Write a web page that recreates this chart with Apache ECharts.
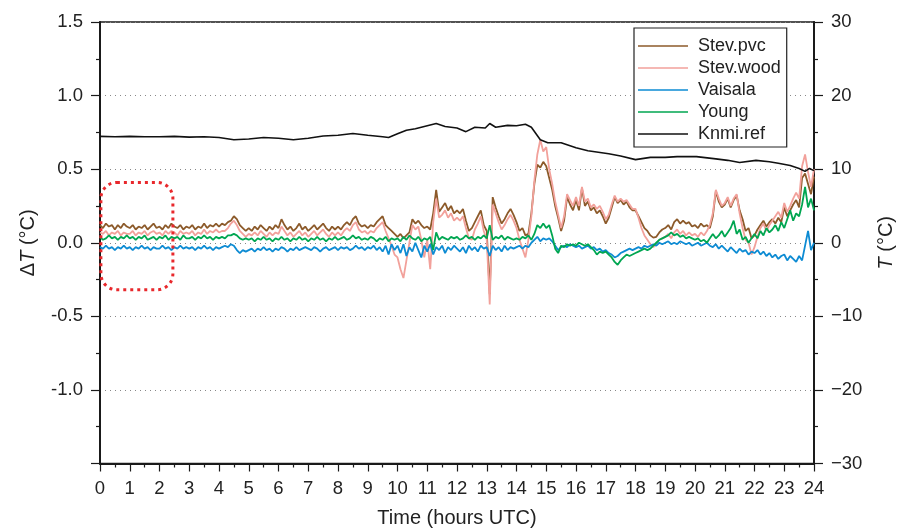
<!DOCTYPE html>
<html><head><meta charset="utf-8">
<script src="https://cdn.jsdelivr.net/npm/echarts@6/dist/echarts.min.js"></script>
<style>html,body{margin:0;padding:0;background:#fff}#c{width:900px;height:531px}</style>
</head><body><div id="c"></div>
<script>
const seriesNames = ['Stev.pvc', 'Stev.wood', 'Vaisala', 'Young', 'Knmi.ref'];
const sampleStepHours = 0.1; // ΔT series sampled every 6 minutes, 0..24 h
const xTickLabels = ['0','1','2','3','4','5','6','7','8','9','10','11','12','13','14','15','16','17','18','19','20','21','22','23','24'];

const stevPvc = [
 0.12,0.10,0.13,0.11,0.12,0.09,0.12,0.10,0.13,0.11,
 0.10,0.12,0.09,0.11,0.10,0.12,0.09,0.11,0.13,0.10,
 0.11,0.09,0.12,0.10,0.13,0.11,0.10,0.12,0.09,0.11,
 0.10,0.12,0.09,0.11,0.10,0.13,0.10,0.12,0.11,0.13,
 0.11,0.13,0.12,0.14,0.15,0.18,0.16,0.12,0.10,0.08,
 0.10,0.08,0.11,0.09,0.12,0.10,0.08,0.11,0.09,0.12,
 0.10,0.16,0.12,0.09,0.11,0.08,0.10,0.13,0.09,0.11,
 0.08,0.10,0.12,0.09,0.11,0.13,0.10,0.08,0.11,0.09,
 0.11,0.09,0.12,0.14,0.12,0.16,0.18,0.13,0.11,0.12,
 0.10,0.12,0.11,0.14,0.16,0.18,0.12,0.10,0.08,0.06,
 0.04,0.06,0.03,0.05,0.07,0.16,0.13,0.15,0.12,0.10,
 0.11,0.09,0.20,0.36,0.21,0.24,0.27,0.22,0.25,0.20,
 0.22,0.20,0.23,0.15,0.08,0.10,0.14,0.18,0.22,0.12,
 0.08,-0.35,0.31,0.24,0.18,0.13,0.16,0.20,0.23,0.19,
 0.14,0.08,0.10,0.05,0.06,0.20,0.40,0.53,0.51,0.55,
 0.52,0.44,0.36,0.25,0.17,0.08,0.15,0.31,0.26,0.22,
 0.29,0.22,0.37,0.25,0.28,0.22,0.24,0.20,0.22,0.18,
 0.13,0.17,0.24,0.31,0.27,0.29,0.26,0.28,0.24,0.22,
 0.22,0.18,0.14,0.10,0.08,0.05,0.035,0.04,0.07,0.09,
 0.10,0.12,0.09,0.14,0.16,0.13,0.15,0.13,0.14,0.11,
 0.12,0.10,0.13,0.11,0.12,0.10,0.18,0.35,0.28,0.24,
 0.26,0.30,0.24,0.29,0.32,0.22,0.16,0.08,0.10,0.03,
 0.05,0.09,0.12,0.15,0.11,0.14,0.16,0.13,0.17,0.14,
 0.24,0.18,0.22,0.26,0.29,0.24,0.44,0.47,0.40,0.33,
 0.45];

const stevWood = [
 0.07,0.06,0.08,0.05,0.07,0.06,0.08,0.05,0.07,0.06,
 0.06,0.08,0.05,0.07,0.06,0.08,0.05,0.07,0.08,0.06,
 0.07,0.05,0.08,0.06,0.08,0.07,0.05,0.08,0.06,0.07,
 0.06,0.08,0.05,0.07,0.06,0.09,0.06,0.08,0.07,0.09,
 0.07,0.08,0.08,0.10,0.13,0.15,0.12,0.08,0.06,0.04,
 0.06,0.05,0.07,0.05,0.08,0.06,0.04,0.07,0.05,0.07,
 0.06,0.11,0.08,0.05,0.07,0.04,0.06,0.08,0.05,0.07,
 0.04,0.06,0.08,0.05,0.07,0.09,0.06,0.04,0.07,0.05,
 0.07,0.05,0.08,0.10,0.08,0.12,0.14,0.09,0.07,0.08,
 0.06,0.08,0.07,0.10,0.12,0.14,0.08,0.03,-0.02,-0.08,
 -0.10,-0.18,-0.24,-0.12,0.00,0.12,0.09,0.11,0.02,-0.10,
 0.02,-0.18,0.14,0.30,0.17,0.19,0.22,0.17,0.20,0.15,
 0.17,0.15,0.18,0.10,0.03,0.02,0.09,0.13,0.18,0.08,
 0.02,-0.42,0.26,0.20,0.14,0.09,0.12,0.16,0.19,0.15,
 0.10,0.02,-0.04,-0.10,0.02,0.18,0.42,0.60,0.70,0.62,
 0.65,0.50,0.40,0.28,0.19,0.10,0.18,0.33,0.29,0.25,
 0.31,0.25,0.38,0.28,0.30,0.24,0.26,0.23,0.25,0.21,
 0.16,0.19,0.26,0.32,0.28,0.30,0.28,0.29,0.26,0.23,
 0.23,0.17,0.10,0.05,0.02,-0.01,-0.03,-0.01,0.02,0.03,
 0.04,0.06,0.03,0.07,0.09,0.06,0.08,0.05,0.07,0.05,
 0.06,0.04,0.07,0.05,0.08,0.12,0.20,0.36,0.30,0.25,
 0.27,0.31,0.25,0.30,0.33,0.20,0.10,0.02,0.00,-0.08,
 -0.03,0.04,0.10,0.13,0.08,0.12,0.15,0.18,0.21,0.17,
 0.27,0.21,0.25,0.30,0.34,0.30,0.52,0.60,0.48,0.38,
 0.50];

const vaisala = [
 -0.03,-0.04,-0.02,-0.04,-0.03,-0.05,-0.03,-0.04,-0.02,-0.04,
 -0.03,-0.05,-0.03,-0.04,-0.02,-0.04,-0.03,-0.05,-0.03,-0.04,
 -0.04,-0.02,-0.04,-0.03,-0.05,-0.03,-0.04,-0.02,-0.04,-0.03,
 -0.04,-0.03,-0.05,-0.03,-0.04,-0.02,-0.04,-0.03,-0.05,-0.03,
 -0.04,-0.03,-0.02,-0.03,-0.01,-0.02,-0.05,-0.07,-0.05,-0.06,
 -0.05,-0.04,-0.06,-0.04,-0.05,-0.03,-0.05,-0.04,-0.06,-0.04,
 -0.05,-0.03,-0.04,-0.06,-0.04,-0.05,-0.03,-0.05,-0.04,-0.03,
 -0.04,-0.05,-0.03,-0.04,-0.06,-0.04,-0.03,-0.05,-0.04,-0.03,
 -0.05,-0.03,-0.04,-0.03,-0.05,-0.04,-0.02,-0.04,-0.03,-0.05,
 -0.03,-0.04,-0.02,-0.05,-0.03,-0.06,-0.02,-0.08,-0.01,-0.05,
 -0.02,-0.07,-0.01,-0.09,-0.03,-0.06,0.00,-0.05,-0.10,-0.02,
 -0.06,-0.01,-0.08,-0.03,-0.05,-0.02,-0.07,-0.03,-0.05,-0.02,
 -0.04,-0.06,-0.03,-0.07,-0.02,-0.05,-0.03,-0.06,-0.02,-0.04,
 -0.03,-0.09,-0.02,-0.05,-0.03,-0.06,-0.02,-0.05,-0.03,-0.04,
 -0.03,-0.02,-0.04,-0.02,-0.03,0.00,0.02,0.04,0.01,0.03,
 0.02,0.03,0.01,-0.02,-0.05,-0.03,-0.02,-0.03,-0.01,-0.02,
 -0.03,-0.02,-0.04,-0.03,-0.02,-0.04,-0.03,-0.05,-0.04,-0.06,
 -0.05,-0.07,-0.08,-0.10,-0.09,-0.07,-0.06,-0.05,-0.04,-0.05,
 -0.04,-0.03,-0.04,-0.02,-0.03,-0.02,-0.01,-0.02,0.00,-0.01,
 0.00,0.01,-0.01,0.00,-0.01,0.01,0.00,-0.01,0.00,-0.02,
 -0.01,0.00,-0.02,-0.01,0.00,-0.02,-0.03,-0.01,-0.04,-0.02,
 -0.04,-0.06,-0.03,-0.05,-0.07,-0.04,-0.06,-0.05,-0.08,-0.06,
 -0.07,-0.05,-0.08,-0.06,-0.09,-0.07,-0.10,-0.08,-0.11,-0.09,
 -0.08,-0.12,-0.09,-0.11,-0.13,-0.09,-0.12,-0.02,0.08,-0.05,
 0.00];

const young = [
 0.04,0.02,0.03,0.05,0.03,0.04,0.02,0.04,0.03,0.05,
 0.03,0.04,0.02,0.04,0.03,0.05,0.02,0.03,0.04,0.02,
 0.04,0.03,0.05,0.02,0.04,0.03,0.04,0.02,0.05,0.03,
 0.03,0.04,0.02,0.04,0.03,0.05,0.03,0.04,0.02,0.04,
 0.03,0.04,0.03,0.05,0.05,0.06,0.05,0.03,0.02,0.03,
 0.02,0.03,0.01,0.03,0.02,0.04,0.02,0.03,0.01,0.03,
 0.02,0.04,0.02,0.03,0.01,0.03,0.02,0.04,0.02,0.03,
 0.01,0.03,0.02,0.04,0.02,0.03,0.01,0.03,0.02,0.04,
 0.02,0.03,0.04,0.02,0.03,0.05,0.03,0.04,0.02,0.03,
 0.02,0.04,0.03,0.01,0.03,0.02,0.04,0.01,0.03,0.02,
 0.03,0.01,0.04,0.02,0.05,0.03,0.02,0.04,0.01,0.03,
 0.02,0.04,-0.05,0.07,0.02,0.04,0.03,0.02,0.04,0.03,
 0.04,0.02,0.03,0.05,0.03,0.04,0.02,0.04,0.03,0.05,
 0.03,0.12,0.02,0.04,0.03,0.05,0.02,0.04,0.03,0.02,
 0.03,0.02,0.04,0.03,0.05,0.02,0.06,0.12,0.10,0.13,
 0.10,0.12,0.05,-0.04,-0.07,-0.02,-0.03,-0.01,-0.02,-0.01,
 -0.02,0.00,-0.01,-0.02,-0.01,-0.03,-0.05,-0.08,-0.06,-0.07,
 -0.06,-0.08,-0.10,-0.13,-0.15,-0.12,-0.10,-0.08,-0.09,-0.08,
 -0.07,-0.06,-0.05,-0.04,-0.05,-0.04,-0.02,0.00,0.02,0.03,
 0.04,0.05,0.07,0.05,0.06,0.04,0.05,0.03,0.04,0.03,
 0.02,0.03,0.01,0.02,0.00,0.03,0.06,0.03,0.05,0.08,
 0.04,0.07,0.10,0.15,0.06,0.09,0.02,0.04,0.00,0.03,
 0.06,0.03,0.08,0.05,0.10,0.07,0.09,0.12,0.08,0.14,
 0.10,0.16,0.22,0.15,0.20,0.18,0.26,0.38,0.24,0.30,
 0.22];

// Knmi reference temperature (right axis, °C)
const knmiHours = [0,0.5,1,1.5,2,2.5,3,3.5,4,4.5,5,5.5,6,6.5,7,7.5,8,8.5,9,9.5,9.7,10,10.3,10.6,11,11.3,11.6,12,12.3,12.6,12.95,13.1,13.3,13.7,14,14.3,14.5,14.8,15.05,15.5,16,16.4,17.1,17.5,18,18.5,19,19.4,20.05,20.7,21.1,21.5,22.05,22.5,22.8,23.2,23.5,23.7,23.85,24];
const knmiT = [14.45,14.4,14.45,14.4,14.4,14.45,14.35,14.4,14.3,14.0,14.1,14.3,14.2,14.0,14.2,14.5,14.6,14.85,14.6,14.4,14.3,14.8,15.3,15.5,15.9,16.2,15.8,15.6,15.1,15.7,15.6,16.2,15.7,15.95,15.9,16.1,15.7,14.0,13.6,13.6,12.9,12.5,12.1,11.8,11.3,11.6,11.6,11.7,11.7,11.4,11.2,10.9,11.2,11.0,10.8,10.5,10.1,9.7,10.1,9.8];

// annotation box (data units)
const boxHours = [0.03, 2.45];
const boxDeltaT = [-0.32, 0.41];

const seriesColors = ['#8c5a2a', '#f2a19b', '#0d8bd3', '#00a651', '#111111'];
const FONT = 'Liberation Sans, Arial, Helvetica, sans-serif';

function pairs(vals) { return vals.map((v, i) => [+(i * sampleStepHours).toFixed(2), v]); }

const chart = echarts.init(document.getElementById('c'));
const axisLine = { show: true, onZero: false, lineStyle: { color: '#1a1a1a', width: 2 } };
const tickStyle = { color: '#1a1a1a', width: 1.2 };

const deltaSets = [stevPvc, stevWood, vaisala, young];
const series = deltaSets.map((vals, k) => ({
  name: seriesNames[k], type: 'line', data: pairs(vals), symbol: 'none', showSymbol: false,
  xAxisIndex: 0, yAxisIndex: 0, animation: false,
  lineStyle: { color: seriesColors[k], width: 1.8 }, itemStyle: { color: seriesColors[k] }, z: 2 + k
}));
series.push({
  name: seriesNames[4], type: 'line', data: knmiHours.map((h, i) => [h, knmiT[i]]), symbol: 'none', showSymbol: false,
  xAxisIndex: 0, yAxisIndex: 1, animation: false, smooth: false,
  lineStyle: { color: seriesColors[4], width: 1.6 }, itemStyle: { color: seriesColors[4] }, z: 7
});

chart.setOption({
  animation: false,
  textStyle: { fontFamily: FONT },
  grid: { left: 100, right: 86, top: 22, bottom: 67.5, show: true, borderColor: '#1a1a1a', borderWidth: 1.5, containLabel: false, outerBoundsMode: 'none' },
  legend: {
    data: seriesNames, orient: 'vertical', left: 634, top: 28, icon: 'rect',
    padding: [9, 6, 4, 4], itemWidth: 50, itemHeight: 1.5, itemGap: 4,
    borderColor: '#222', borderWidth: 1.2, backgroundColor: '#fff',
    textStyle: { fontSize: 18, color: '#222', fontFamily: FONT, padding: [0, 0, 0, 5] }
  },
  xAxis: [{
    type: 'value', min: 0, max: 24, interval: 1,
    axisLine: axisLine,
    axisTick: { show: true, length: 8, lineStyle: tickStyle },
    minorTick: { show: true, splitNumber: 2, length: 4, lineStyle: tickStyle },
    splitLine: { show: false },
    axisLabel: { fontSize: 18.5, color: '#222', margin: 16, formatter: v => xTickLabels[Math.round(v)] },
    name: 'Time (hours UTC)', nameLocation: 'middle', nameGap: 45,
    nameTextStyle: { fontSize: 20, color: '#222', fontFamily: FONT }
  }],
  yAxis: [{
    type: 'value', min: -1.5, max: 1.5, interval: 0.5, position: 'left',
    axisLine: axisLine,
    axisTick: { show: true, length: 9, lineStyle: tickStyle },
    minorTick: { show: true, splitNumber: 2, length: 4, lineStyle: tickStyle },
    splitLine: { show: true, lineStyle: { color: '#888', width: 1, type: [1, 4] } },
    axisLabel: { fontSize: 18.5, color: '#222', margin: 17, formatter: v => (Math.abs(v + 1.5) < 1e-9 ? '' : v.toFixed(1)) },
    name: '{d|Δ}{i|T}{d| (°C)}', nameLocation: 'middle', nameGap: 62, nameRotate: 90,
    nameTextStyle: { fontSize: 20, color: '#222', rich: { d: { fontSize: 20, fontFamily: FONT, color: '#222' }, i: { fontSize: 20, fontStyle: 'italic', fontFamily: FONT, color: '#222' } } }
  }, {
    type: 'value', min: -30, max: 30, interval: 10, position: 'right',
    axisLine: axisLine,
    axisTick: { show: true, length: 9, lineStyle: tickStyle },
    minorTick: { show: true, splitNumber: 2, length: 4, lineStyle: tickStyle },
    splitLine: { show: false },
    axisLabel: { fontSize: 18.5, color: '#222', margin: 17, formatter: v => (v < 0 ? '\u2212' + Math.abs(v) : String(v)) },
    name: '{i|T}{d| (°C)}', nameLocation: 'middle', nameGap: 62, nameRotate: 90,
    nameTextStyle: { fontSize: 20, color: '#222', rich: { d: { fontSize: 20, fontFamily: FONT, color: '#222' }, i: { fontSize: 20, fontStyle: 'italic', fontFamily: FONT, color: '#222' } } }
  }],
  series: series
});

const p1 = chart.convertToPixel({ xAxisIndex: 0, yAxisIndex: 0 }, [boxHours[0], boxDeltaT[1]]);
const p2 = chart.convertToPixel({ xAxisIndex: 0, yAxisIndex: 0 }, [boxHours[1], boxDeltaT[0]]);
chart.setOption({
  graphic: [{
    type: 'rect', z: 100,
    shape: { x: p1[0], y: p1[1], width: p2[0] - p1[0], height: p2[1] - p1[1], r: 16 },
    style: { fill: 'none', stroke: '#e8282c', lineWidth: 3, lineDash: [3, 4] }
  }]
});
</script>
</body></html>
